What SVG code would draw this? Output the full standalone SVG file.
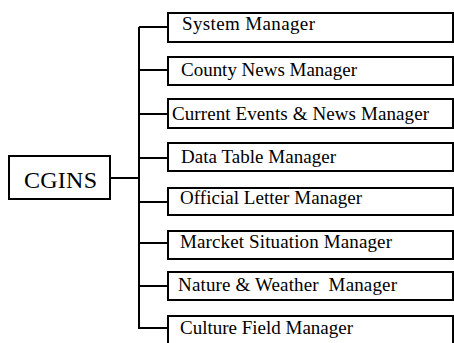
<svg xmlns="http://www.w3.org/2000/svg" width="454" height="343" viewBox="0 0 454 343">
<style>
.box{fill:#fff;stroke:#000;stroke-width:2}
.t{font-family:"Liberation Serif","Times New Roman",serif;font-size:19px;fill:#000}
.root{font-family:"Liberation Serif","Times New Roman",serif;font-size:24px;fill:#000}
.c{fill:none;stroke:#000;stroke-width:2}
</style>
<rect width="454" height="343" fill="#fff"/>
<g id="connectors">
<path class="c" d="M110 178H139M139 27V328H168M139 27H168M139 70H168M139 114H168M139 158H168M139 202H168M139 243H168M139 286H168"/>
</g>
<g id="cgins"><rect class="box" x="9" y="156" width="101" height="43"/><text class="root" x="24" y="188" textLength="73">CGINS</text></g>
<g id="n1"><rect class="box" x="168" y="13" width="285" height="29"/><text class="t" x="182" y="30" textLength="133">System Manager</text></g>
<g id="n2"><rect class="box" x="168" y="57" width="285" height="28"/><text class="t" x="181" y="76" textLength="176">County News Manager</text></g>
<g id="n3"><rect class="box" x="168" y="99" width="285" height="29"/><text class="t" x="172" y="120" textLength="257">Current Events &amp; News Manager</text></g>
<g id="n4"><rect class="box" x="168" y="143" width="285" height="28"/><text class="t" x="181" y="163" textLength="155">Data Table Manager</text></g>
<g id="n5"><rect class="box" x="168" y="188" width="285" height="27"/><text class="t" x="180" y="204" textLength="182">Official Letter Manager</text></g>
<g id="n6"><rect class="box" x="168" y="231" width="285" height="28"/><text class="t" x="180" y="248" textLength="212">Marcket Situation Manager</text></g>
<g id="n7"><rect class="box" x="168" y="272" width="285" height="28"/><text class="t" x="178" y="291" textLength="219" xml:space="preserve">Nature &amp; Weather  Manager</text></g>
<g id="n8"><rect class="box" x="168" y="316" width="285" height="30"/><text class="t" x="180" y="334" textLength="173">Culture Field Manager</text></g>
</svg>
